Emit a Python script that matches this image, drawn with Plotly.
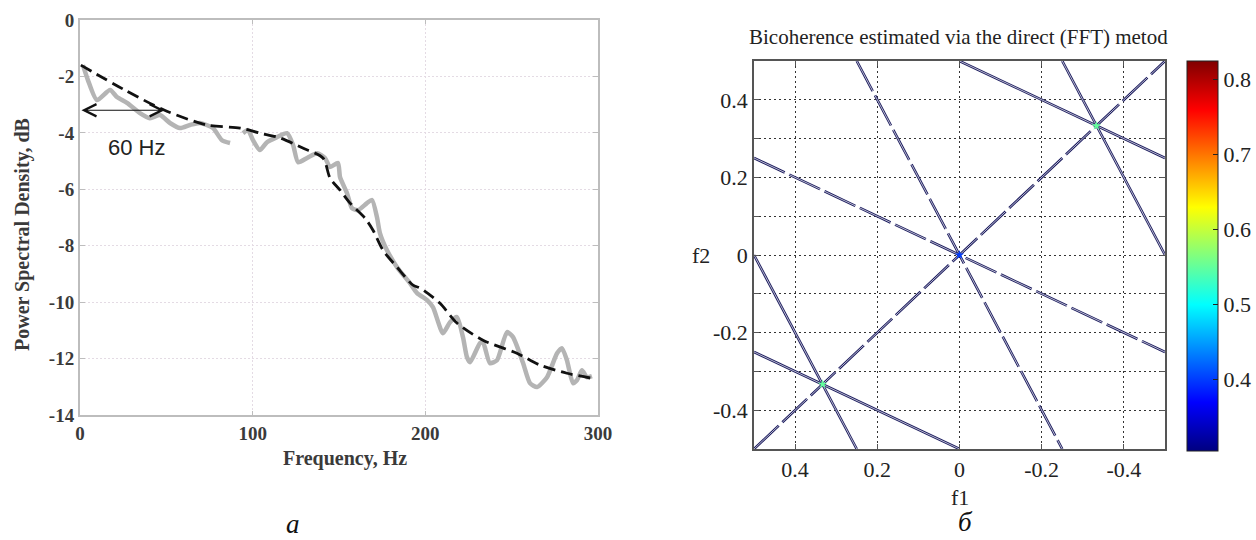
import plotly.graph_objects as go

W, H = 1256, 540

# ---------------- data: panel a (PSD) ----------------
psd_freq = [1.7, 4.6, 9.8, 17.4, 21.4, 27.2, 34.7, 40.5, 46.3, 52.1, 57.9, 63.7, 69.5, 77.0, 82.2, 86.9,
            None,
            94.4, 97.3, 100.2, 104.2, 108.3, 114.1, 119.9, 123.4, 126.3, 131.5, 137.3, 141.9, 144.8, 149.4,
            150.6, 154.6, 157.5, 161.0, 166.2, 169.1, 172.0, 173.7, 177.8, 183.6, 191.1, 195.2, 201.0, 204.4,
            210.2, 214.3, 218.3, 221.8, 224.1, 225.9, 231.7, 233.4, 237.4, 241.5, 247.3, 250.8, 256.6, 260.6,
            264.7, 270.5, 276.3, 279.1, 282.0, 285.5, 287.8, 290.7, 293.6, 296.5]
psd_db = [-1.60, -2.13, -2.84, -2.48, -2.73, -2.94, -3.30, -3.48, -3.37, -3.65, -3.83, -3.72, -3.65, -3.83, -4.26, -4.36,
          None,
          -4.01, -3.90, -4.26, -4.61, -4.33, -4.15, -4.01, -4.43, -5.04, -4.89, -4.72, -4.89, -5.21, -5.07,
          -5.57, -6.13, -6.67, -6.74, -6.49, -6.38, -6.99, -7.55, -8.16, -8.76, -9.33, -9.68, -9.93, -10.18,
          -11.10, -10.71, -10.53, -11.24, -11.95, -12.13, -11.45, -11.42, -12.16, -12.06, -11.06, -11.24, -12.16, -12.87,
          -13.01, -12.66, -11.81, -11.63, -12.06, -12.87, -12.77, -12.41, -12.66, -12.62]

fit_freq = [0.5, 25, 49, 73.5, 92.7, 104.2, 115.8, 129.0, 140.7, 144.8, 150.6, 156.4, 165.0, 169.7, 175.5,
            183.6, 192.9, 196.9, 208.5, 218.3, 233.4, 253.0, 266.4, 282.0, 296.5]
fit_db = [-1.6, -2.45, -3.2, -3.72, -3.83, -4.01, -4.18, -4.54, -4.89, -5.6, -6.03, -6.49, -7.02, -7.45, -8.16,
          -8.76, -9.4, -9.5, -10.04, -10.74, -11.35, -11.81, -12.23, -12.52, -12.70]

psd_xticks = [0, 100, 200, 300]
psd_yticks = [0, -2, -4, -6, -8, -10, -12, -14]

arrow_from_hz, arrow_to_hz, arrow_level_db = 0, 49, -3.2

# ---------------- data: panel б (bicoherence) ----------------
# contour ridges (straight lines) : start / end points in (f1, f2)
ridge_f1_start = [0.25, 0.5, 0.5, 0.0, -0.25, 0.5, 0.5]
ridge_f2_start = [0.5, 0.25, -0.5, 0.5, 0.5, 0.0, -0.25]
ridge_f1_end = [-0.25, -0.5, -0.5, -0.5, -0.5, 0.25, 0.0]
ridge_f2_end = [-0.5, -0.25, 0.5, 0.25, 0.0, -0.5, -0.5]
ridge_broken = [True, True, True, False, False, False, False]

peak_f1 = [0.0, 0.333, -0.333]
peak_f2 = [0.0, -0.333, 0.333]
peak_val = [0.40, 0.55, 0.55]

bic_ticks = [0.4, 0.2, 0.0, -0.2, -0.4]
bic_ticktext = ["0.4", "0.2", "0", "-0.2", "-0.4"]
bic_yticks = [0.4, 0.2, 0.0, -0.2, -0.4]
cbar_ticks = [0.4, 0.5, 0.6, 0.7, 0.8]
cbar_min, cbar_max = 0.305, 0.824

jet = [[0.0, "rgb(0,0,128)"], [0.125, "rgb(0,0,255)"], [0.375, "rgb(0,255,255)"],
       [0.625, "rgb(255,255,0)"], [0.875, "rgb(255,0,0)"], [1.0, "rgb(128,0,0)"]]


def px(x):
    return x / W


def py(y):
    return (H - y) / H


SERIF = "Liberation Serif, Times New Roman, serif"
NAVY = "rgb(28,28,95)"

fig = go.Figure()

# panel a traces
fig.add_trace(go.Scatter(x=psd_freq, y=psd_db, mode="lines", connectgaps=False,
                         line=dict(color="#b4b4b4", width=4.5, shape="spline", smoothing=0.6),
                         xaxis="x", yaxis="y", showlegend=False, hoverinfo="skip"))
fig.add_trace(go.Scatter(x=fit_freq, y=fit_db, mode="lines",
                         line=dict(color="#111111", width=2.8, dash="12px,6px", shape="spline", smoothing=0.8),
                         xaxis="x", yaxis="y", showlegend=False, hoverinfo="skip"))

# panel б ridges
for i in range(len(ridge_f1_start)):
    dash = "34px,5px" if ridge_broken[i] else "solid"
    fig.add_trace(go.Scatter(x=[ridge_f1_start[i], ridge_f1_end[i]], y=[ridge_f2_start[i], ridge_f2_end[i]],
                             mode="lines", line=dict(color=NAVY, width=2.6, dash=dash),
                             xaxis="x2", yaxis="y2", showlegend=False, hoverinfo="skip"))
    fig.add_trace(go.Scatter(x=[ridge_f1_start[i], ridge_f1_end[i]], y=[ridge_f2_start[i], ridge_f2_end[i]],
                             mode="lines", line=dict(color="white", width=0.7, dash=dash),
                             xaxis="x2", yaxis="y2", showlegend=False, hoverinfo="skip"))

fig.add_trace(go.Scatter(x=peak_f1, y=peak_f2, mode="markers",
                         marker=dict(size=7, symbol="star", color=peak_val, colorscale=jet,
                                     cmin=cbar_min, cmax=cbar_max, showscale=True,
                                     colorbar=dict(x=px(1187), xanchor="left", xpad=0,
                                                   y=py(256), yanchor="middle", ypad=0,
                                                   len=390 / H, lenmode="fraction",
                                                   thickness=31, thicknessmode="pixels",
                                                   outlinecolor="#222", outlinewidth=1,
                                                   tickvals=cbar_ticks, ticktext=[str(v) for v in cbar_ticks],
                                                   ticks="inside", ticklen=5, tickcolor="#222",
                                                   tickfont=dict(family=SERIF, size=22, color="#222"))),
                         xaxis="x2", yaxis="y2", showlegend=False, hoverinfo="skip"))

grid_a = "#e4dbe4"
axis_font_a = dict(family=SERIF, size=19, color="#3a3a3a", weight="bold")

fig.update_layout(
    width=W, height=H,
    margin=dict(l=0, r=0, t=0, b=0, autoexpand=False),
    paper_bgcolor="white", plot_bgcolor="white",
    xaxis=dict(domain=[px(80), px(598)], range=[0, 300], anchor="y", automargin=False,
               tickvals=psd_xticks, ticktext=[str(v) for v in psd_xticks],
               showgrid=True, gridcolor=grid_a, griddash="2px,2px", gridwidth=1,
               showline=True, linecolor="#bdbdbd", linewidth=2, mirror="ticks",
               ticks="inside", ticklen=4, tickcolor="#bdbdbd",
               tickfont=axis_font_a, zeroline=False),
    yaxis=dict(domain=[py(415), py(20)], range=[-14, 0], anchor="x", automargin=False,
               tickvals=psd_yticks, ticktext=[str(v) for v in psd_yticks],
               showgrid=True, gridcolor=grid_a, griddash="2px,2px", gridwidth=1,
               showline=True, linecolor="#bdbdbd", linewidth=2, mirror="ticks",
               ticks="inside", ticklen=5, tickcolor="#bdbdbd",
               tickfont=axis_font_a, zeroline=False),
    xaxis2=dict(domain=[px(754), px(1165)], range=[0.5, -0.5], anchor="y2", automargin=False,
                tickvals=bic_ticks, ticktext=bic_ticktext,
                showgrid=True, gridcolor="#333", griddash="1.5px,3.5px", gridwidth=1,
                showline=True, linecolor="#555", linewidth=1.5, mirror="ticks",
                ticks="inside", ticklen=5, tickcolor="#555",
                tickfont=dict(family=SERIF, size=22, color="#222"), zeroline=False),
    yaxis2=dict(domain=[py(449), py(61)], range=[-0.5, 0.5], anchor="x2", automargin=False,
                tickvals=bic_yticks, ticktext=bic_ticktext,
                showgrid=True, gridcolor="#333", griddash="1.5px,3.5px", gridwidth=1,
                showline=True, linecolor="#555", linewidth=1.5, mirror="ticks",
                ticks="inside", ticklen=5, tickcolor="#555",
                minor=dict(dtick=0.1, tick0=0, showgrid=True, gridcolor="#333", griddash="1.5px,3.5px",
                           gridwidth=1, ticks="inside", ticklen=5, tickcolor="#555"),
                tickfont=dict(family=SERIF, size=22, color="#222"), zeroline=False),
)


def label(x, y, text, font, angle=0):
    return dict(x=px(x), y=py(y), xref="paper", yref="paper", text=text, showarrow=False,
                xanchor="center", yanchor="middle", textangle=angle, font=font)


ann = []
ann.append(dict(x=arrow_to_hz, y=arrow_level_db, ax=arrow_from_hz, ay=arrow_level_db,
                xref="x", yref="y", axref="x", ayref="y", text="", showarrow=True,
                arrowhead=5, startarrowhead=5, arrowside="end+start", arrowsize=2.2, startarrowsize=2.2,
                arrowwidth=1.1, arrowcolor="#111"))
ann.append(label(136, 148, "60 Hz", dict(family="Liberation Sans, Arial, sans-serif", size=22, color="#222")))
ann.append(label(345, 458, "Frequency, Hz", dict(family=SERIF, size=20, color="#3a3a3a", weight="bold")))
ann.append(label(22, 235, "Power Spectral Density, dB",
                 dict(family=SERIF, size=20, color="#3a3a3a", weight="bold"), angle=-90))
ann.append(label(958, 37, "Bicoherence estimated via the direct (FFT) metod",
                 dict(family=SERIF, size=21, color="#222")))
ann.append(label(960, 497, "f1", dict(family=SERIF, size=22, color="#222")))
ann.append(label(701, 255, "f2", dict(family=SERIF, size=22, color="#222")))
ann.append(label(293, 524, "<i>а</i>", dict(family=SERIF, size=27, color="#111")))
ann.append(label(965, 522, "<i>б</i>", dict(family=SERIF, size=27, color="#111")))
fig.update_layout(annotations=ann)

fig.write_html("out.html")
